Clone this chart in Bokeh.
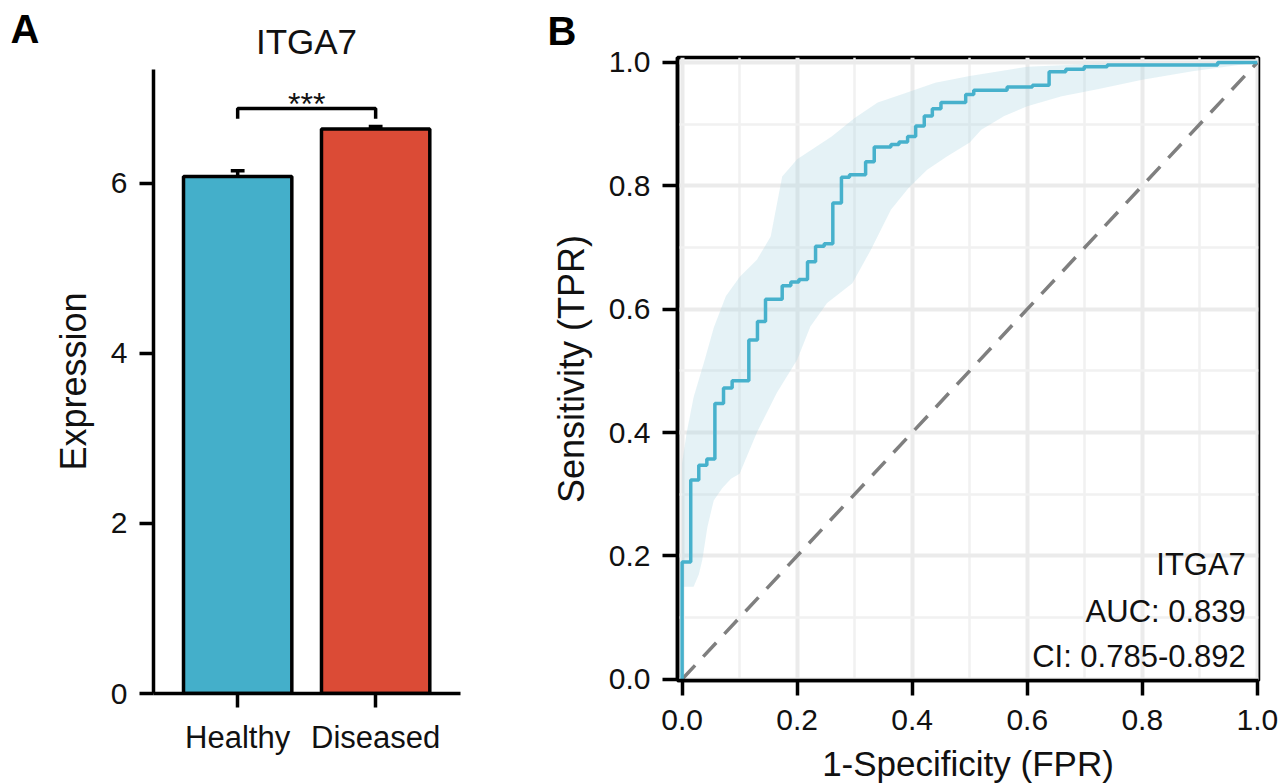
from bokeh.plotting import figure
from bokeh.layouts import row, column
from bokeh.models import Range1d, FixedTicker, PrintfTickFormatter, Title
from bokeh.core.properties import value
from bokeh.embed import file_html
from bokeh.resources import INLINE

FONT = "Liberation Sans"
INK = "#111111"
BASE_SHIFT = 0.38  # em; compensates where the renderer puts an alphabetic baseline

# ---------------- Panel A data ----------------
groups = ["Healthy", "Diseased"]
means = [6.08, 6.64]
sems = [0.07, 0.03]
bar_colors = ["#44AFCA", "#DB4B36"]
gene = "ITGA7"
signif = "***"
bar_yticks = [0, 2, 4, 6]

# ---------------- Panel B data ----------------
roc_fpr = [0.0, 0.0, 0.015, 0.029, 0.043, 0.057, 0.072, 0.087, 0.116, 0.131,
           0.145, 0.174, 0.189, 0.203, 0.218, 0.232, 0.247, 0.262, 0.277, 0.291,
           0.319, 0.334, 0.363, 0.377, 0.392, 0.406, 0.421, 0.435, 0.450, 0.493,
           0.507, 0.565, 0.609, 0.638, 0.667, 0.699, 0.739, 0.931, 1.0]
roc_tpr = [0.0, 0.19, 0.323, 0.347, 0.357, 0.447, 0.472, 0.484, 0.550, 0.580,
           0.616, 0.638, 0.644, 0.648, 0.677, 0.702, 0.706, 0.772, 0.814, 0.818,
           0.839, 0.863, 0.867, 0.871, 0.880, 0.897, 0.913, 0.925, 0.935, 0.948,
           0.955, 0.960, 0.963, 0.985, 0.989, 0.993, 0.996, 1.0, 1.0]

ci_upper_fpr = [0.0, 0.0, 0.008, 0.02, 0.04, 0.055, 0.076, 0.10, 0.13, 0.154,
                0.174, 0.20, 0.26, 0.30, 0.34, 0.39, 0.44, 0.50, 0.60, 0.72, 1.0]
ci_upper_tpr = [0.15, 0.35, 0.40, 0.457, 0.52, 0.57, 0.621, 0.652, 0.68, 0.718,
                0.815, 0.843, 0.88, 0.91, 0.935, 0.951, 0.967, 0.978, 0.993, 0.998, 1.0]
ci_lower_fpr = [0.0, 0.02, 0.029, 0.035, 0.044, 0.055, 0.07, 0.085, 0.10, 0.13,
                0.165, 0.20, 0.223, 0.252, 0.296, 0.328, 0.363, 0.394, 0.426, 0.461,
                0.50, 0.52, 0.56, 0.60, 0.66, 0.72, 0.80, 0.89, 1.0]
ci_lower_tpr = [0.15, 0.15, 0.17, 0.193, 0.247, 0.29, 0.31, 0.325, 0.333, 0.40,
                0.465, 0.518, 0.572, 0.61, 0.642, 0.696, 0.761, 0.797, 0.826, 0.848,
                0.87, 0.891, 0.913, 0.929, 0.945, 0.956, 0.972, 0.986, 1.0]

auc_value = 0.839
auc_ci = (0.785, 0.892)
roc_ticks = [0.0, 0.2, 0.4, 0.6, 0.8, 1.0]
roc_minor = [0.1, 0.3, 0.5, 0.7, 0.9]

LW = 3.5


def strip(width, height):
    """A bare figure whose frame is the whole canvas, in pixel units (y downwards)."""
    h = figure(width=width, height=height, title=None, min_border=0,
               x_range=Range1d(0, width), y_range=Range1d(height, 0),
               x_axis_type=None, y_axis_type=None,
               output_backend="svg", toolbar_location=None)
    h.outline_line_color = None
    h.grid.visible = False
    return h


def put_text(fig, x, baseline, txt, size, align="left", bold=False):
    fig.text(x=[x], y=[baseline - BASE_SHIFT * size], text=[txt],
             text_font=value(FONT), text_font_size="%dpx" % size,
             text_font_style="bold" if bold else "normal",
             text_align=align, text_baseline="alphabetic",
             text_color="black" if bold else INK)


# ================= Panel A =================
WA = 492
HA = 60
hA = strip(WA, HA)
put_text(hA, 10, 44, "A", 40, bold=True)
put_text(hA, 306, 54, gene, 35, align="center")

xpos = list(range(len(groups)))
p1 = figure(title=None, frame_width=307, frame_height=624,
            min_border_left=153, min_border_right=WA - 153 - 307,
            min_border_top=69 - HA, min_border_bottom=782 - 693,
            x_range=Range1d(-0.61, 1.615), y_range=Range1d(0, 7.34),
            output_backend="svg", toolbar_location=None)
p1.outline_line_color = None
p1.grid.visible = False

p1.vbar(x=xpos, top=means, width=0.785, bottom=0, fill_color=bar_colors,
        line_color="black", line_width=LW)
tops = [m + s for m, s in zip(means, sems)]
p1.segment(x0=xpos, y0=means, x1=xpos, y1=tops, line_color="black", line_width=LW)
p1.segment(x0=[x - 0.05 for x in xpos], y0=tops, x1=[x + 0.05 for x in xpos], y1=tops,
           line_color="black", line_width=LW)

top_max = max(tops)
leg_y = top_max + 0.09
br_y = top_max + 0.21
p1.line(x=[xpos[0], xpos[0], xpos[1], xpos[1]], y=[leg_y, br_y, br_y, leg_y],
        line_color="black", line_width=LW)
p1.text(x=[(xpos[0] + xpos[1]) / 2], y=[br_y + 0.05], text=[signif],
        text_font=value(FONT), text_font_size="32px", text_align="center",
        text_baseline="alphabetic", text_color=INK)

for ax in (p1.xaxis[0], p1.yaxis[0]):
    ax.axis_line_width = LW
    ax.axis_line_color = "black"
    ax.major_tick_line_width = LW
    ax.major_tick_line_color = "black"
    ax.major_tick_out = 14
    ax.major_tick_in = 0
    ax.minor_tick_line_color = None
    ax.major_label_text_font = FONT
    ax.major_label_text_color = INK
    ax.major_label_standoff = 12
    ax.axis_label_text_font = FONT
    ax.axis_label_text_font_style = "normal"
    ax.axis_label_text_color = INK

p1.xaxis.ticker = FixedTicker(ticks=xpos)
p1.xaxis.major_label_overrides = {x: g for x, g in zip(xpos, groups)}
p1.xaxis.major_label_text_font_size = "31px"
p1.yaxis.ticker = FixedTicker(ticks=bar_yticks)
p1.yaxis.major_label_text_font_size = "30px"
p1.yaxis.axis_label = "Expression"
p1.yaxis.axis_label_text_font_size = "36px"
p1.yaxis.axis_label_standoff = 14

# ================= Panel B =================
WB = 794
TOP_B = 57
BOT = 64
p2 = figure(frame_width=581, frame_height=623,
            min_border_left=677 - WA, min_border_right=WB - (677 - WA) - 581,
            min_border_top=TOP_B, min_border_bottom=BOT,
            x_range=Range1d(-0.008, 1.002), y_range=Range1d(-0.002, 1.008),
            output_backend="svg", toolbar_location=None)
p2.title = Title(text="B", align="left", offset=547 - 677, standoff=10,
                 text_font=FONT, text_font_size="40px", text_font_style="bold",
                 text_color="black")
p2.outline_line_color = "black"
p2.outline_line_width = LW
p2.outline_line_alpha = 1.0

band_x = ci_upper_fpr + ci_lower_fpr[::-1]
band_y = ci_upper_tpr + ci_lower_tpr[::-1]
p2.patch(x=band_x, y=band_y, fill_color="#A8D5E2", fill_alpha=0.3, line_color=None)
p2.line(x=[roc_ticks[0], roc_ticks[-1]], y=[roc_ticks[0], roc_ticks[-1]],
        line_color="#7F7F7F", line_width=LW, line_dash="19 12")
p2.step(x=roc_fpr, y=roc_tpr, mode="after", line_color="#47B1CC", line_width=LW)

for ax in (p2.xaxis[0], p2.yaxis[0]):
    ax.ticker = FixedTicker(ticks=roc_ticks, minor_ticks=roc_minor)
    ax.formatter = PrintfTickFormatter(format="%.1f")
    ax.axis_line_width = LW
    ax.axis_line_color = "black"
    ax.major_tick_line_width = LW
    ax.major_tick_line_color = "black"
    ax.major_tick_out = 15
    ax.major_tick_in = 0
    ax.minor_tick_line_color = None
    ax.major_label_text_font = FONT
    ax.major_label_text_font_size = "30px"
    ax.major_label_text_color = INK
    ax.axis_label_text_font = FONT
    ax.axis_label_text_font_style = "normal"
    ax.axis_label_text_color = INK
    ax.axis_label_text_font_size = "36px"
p2.xaxis.major_label_standoff = 14
p2.yaxis.major_label_standoff = 12

for g in (p2.xgrid[0], p2.ygrid[0]):
    g.grid_line_color = "#EBEBEB"
    g.grid_line_width = 4
    g.minor_grid_line_color = "#F1F1F1"
    g.minor_grid_line_width = 2.5

p2.yaxis.axis_label = "Sensitivity (TPR)"
p2.yaxis.axis_label_standoff = 14

# legend-like annotation lines (right-aligned, bottom-right of panel)
legend_lines = [gene, "AUC: %.3f" % auc_value, "CI: %.3f-%.3f" % auc_ci]
legend_base = [0.167, 0.091, 0.018]
px_per_unit = 623 / 1.010
legend_y = [b + BASE_SHIFT * 30 / px_per_unit for b in legend_base]
p2.text(x=[0.98] * 3, y=legend_y, text=legend_lines, text_font=value(FONT),
        text_font_size="31px", text_align="right", text_baseline="alphabetic",
        text_color=INK)

# x-axis title strip below panel B
HF = 784 - (TOP_B + 623 + BOT)
fB = strip(WB, HF)
put_text(fB, (677 + 1258) / 2 - WA, 776 - (784 - HF), "1-Specificity (FPR)", 35,
         align="center")

layout = row(column(row(hA), row(p1)), column(row(p2), row(fB)))
open("out.html", "w").write(file_html(layout, INLINE))
